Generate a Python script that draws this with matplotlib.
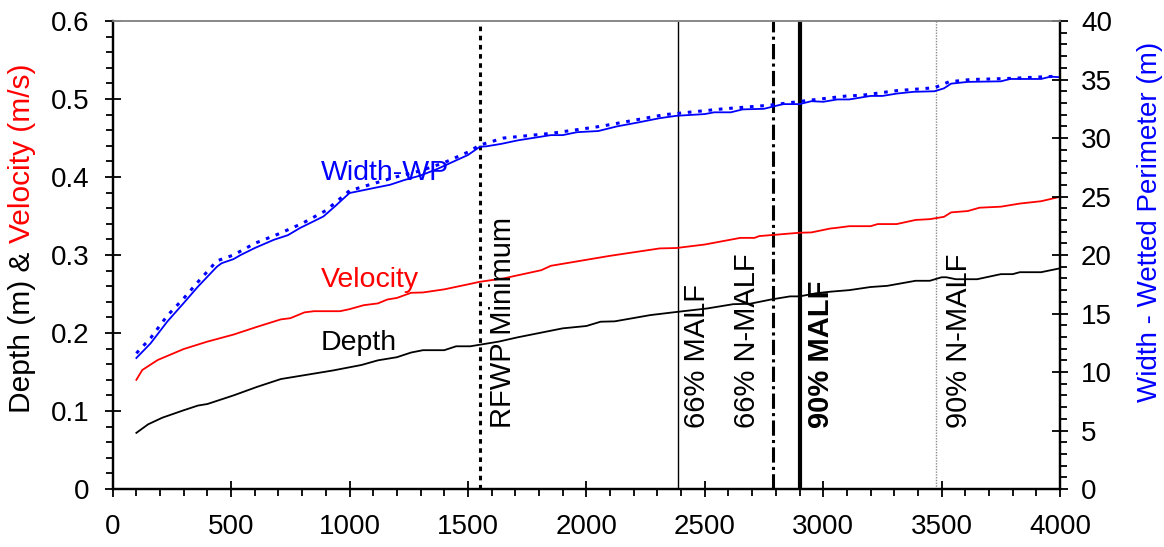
import matplotlib
matplotlib.use('Agg')
import matplotlib.pyplot as plt
from matplotlib.ticker import MultipleLocator, FuncFormatter

plt.rcParams['font.family'] = ['Liberation Sans', 'DejaVu Sans']

depth_flow = [100, 150, 210, 300, 360, 400, 510, 610, 710, 790, 930, 1050, 1120, 1200,
              1260, 1310, 1400, 1450, 1510, 1630, 1710, 1900, 2000, 2060, 2120, 2270,
              2380, 2510, 2620, 2690, 2780, 2860, 2900, 2970, 3030, 3110, 3200, 3270,
              3390, 3450, 3500, 3520, 3560, 3650, 3750, 3800, 3830, 3920, 4000]
depth = [0.072, 0.083, 0.0915, 0.101, 0.107, 0.109, 0.120, 0.131, 0.141, 0.145, 0.152,
         0.159, 0.165, 0.169, 0.175, 0.178, 0.178, 0.183, 0.183, 0.189, 0.1945, 0.206,
         0.209, 0.2145, 0.215, 0.223, 0.227, 0.2315, 0.237, 0.2375, 0.243, 0.247, 0.247,
         0.251, 0.253, 0.255, 0.259, 0.2605, 0.267, 0.267, 0.2715, 0.2715, 0.269, 0.269,
         0.2755, 0.2755, 0.278, 0.278, 0.283]

vel_flow = [100, 125, 190, 300, 400, 510, 610, 710, 750, 810, 850, 960, 1000, 1060,
            1120, 1160, 1200, 1260, 1310, 1400, 1500, 1550, 1650, 1710, 1810, 1850,
            2100, 2310, 2380, 2500, 2650, 2710, 2730, 2900, 2950, 3030, 3060, 3110,
            3200, 3230, 3310, 3390, 3450, 3510, 3540, 3610, 3660, 3750, 3830, 3920, 4000]
velocity = [0.140, 0.1526, 0.1654, 0.1795, 0.189, 0.198, 0.208, 0.2175, 0.219, 0.2265,
            0.228, 0.228, 0.2306, 0.2357, 0.238, 0.243, 0.245, 0.2516, 0.252, 0.256,
            0.2624, 0.2657, 0.270, 0.274, 0.2806, 0.2862, 0.299, 0.3085, 0.309, 0.3135,
            0.322, 0.322, 0.3243, 0.3286, 0.329, 0.334, 0.335, 0.337, 0.337, 0.3397,
            0.3397, 0.345, 0.346, 0.349, 0.3547, 0.3564, 0.3607, 0.362, 0.366, 0.369,
            0.3747]

width_flow = [100, 160, 230, 300, 360, 440, 460, 510, 540, 600, 680, 740, 790, 890, 935,
              1000, 1060, 1120, 1170, 1230, 1300, 1370, 1440, 1500, 1550, 1580, 1640,
              1710, 1850, 1900, 1960, 2050, 2130, 2210, 2310, 2380, 2500, 2540, 2610,
              2660, 2750, 2830, 2900, 2950, 3000, 3060, 3110, 3200, 3250, 3310, 3380,
              3470, 3510, 3540, 3610, 3750, 3790, 3920, 3960, 4000]
width = [11.2, 12.45, 14.3, 15.9, 17.3, 19.0, 19.3, 19.65, 20.0, 20.6, 21.3, 21.7, 22.3,
         23.3, 24.1, 25.3, 25.55, 25.8, 26.0, 26.4, 26.8, 27.35, 28.0, 28.55, 29.25, 29.3,
         29.5, 29.8, 30.25, 30.25, 30.5, 30.6, 31.0, 31.3, 31.7, 31.9, 32.05, 32.2, 32.2,
         32.45, 32.5, 32.9, 32.9, 33.15, 33.1, 33.3, 33.3, 33.6, 33.6, 33.8, 33.95, 34.0,
         34.25, 34.65, 34.8, 34.85, 35.05, 35.05, 35.25, 35.2]

wp_flow = [100, 160, 230, 300, 360, 440, 510, 600, 700, 800, 900, 1000, 1100, 1200, 1300,
           1400, 1500, 1550, 1600, 1650, 1850, 2060, 2330, 2580, 2770, 2950, 3100, 3160,
           3310, 3470, 3530, 3620, 3790, 4000]
wp = [11.6, 12.9, 14.8, 16.3, 17.7, 19.5, 20.0, 21.0, 21.8, 22.7, 23.8, 25.5, 26.1, 26.7,
      27.2, 27.9, 28.8, 29.4, 29.7, 30.0, 30.4, 31.0, 32.0, 32.5, 32.8, 33.25, 33.6, 33.65,
      34.05, 34.3, 34.8, 35.0, 35.1, 35.3]

# reference flows (vertical markers)
ref_names = ['RFWP Minimum', '66% MALF', '66% N-MALF', '90% MALF', '90% N-MALF']
ref_flows = [1550, 2385, 2786, 2903, 3477]
ref_label_x = [1646, 2468, 2677, 2990, 3574]

fig = plt.figure(figsize=(11.64, 5.47), dpi=100)
ax = fig.add_axes([0.0968, 0.106, 0.8139, 0.8555])
ax2 = ax.twinx()

ax.set_xlim(0, 4000)
ax.set_ylim(0, 0.6)
ax2.set_ylim(0, 40)

# vertical reference lines
ax.axvline(ref_flows[0], color='black', lw=2.2, dashes=(1.5, 1.5))
ax.axvline(ref_flows[1], color='black', lw=1.0)
ax.axvline(ref_flows[2], color='black', lw=2.2, dashes=(5, 1.4, 1, 1.4))
ax.axvline(ref_flows[3], color='black', lw=3.0)
ax.axvline(ref_flows[4], color='#8c8c8c', lw=1.0, dashes=(1, 1))

ax.plot(depth_flow, depth, color='black', lw=1.3)
ax.plot(vel_flow, velocity, color='red', lw=1.3)
ax2.plot(width_flow, width, color='blue', lw=1.3)
ax2.plot(wp_flow, wp, color='blue', lw=2.2, dashes=(1.2, 2.2))

for name, xl in zip(ref_names, ref_label_x):
    ax.text(xl, 0.078, name, rotation=90, ha='center', va='bottom', fontsize=21,
            fontweight='bold' if name == '90% MALF' else 'normal')

ax.text(877, 0.396, 'Width-WP', color='blue', fontsize=20.5)
ax.text(877, 0.259, 'Velocity', color='red', fontsize=20.5)
ax.text(877, 0.178, 'Depth', color='black', fontsize=20.5)

# axis labels, the left one in two colours
t1 = fig.text(22 / 1164, 1 - 413 / 547, 'Depth (m) & ', rotation=90, ha='center',
              va='bottom', fontsize=21.5, color='black')
ax.annotate('Velocity (m/s)', xy=(0.5, 1), xycoords=t1, rotation=90, ha='center',
            va='bottom', fontsize=21.5, color='red', annotation_clip=False)
fig.text(1150 / 1164, 1 - 222 / 547, 'Width - Wetted Perimeter (m)', rotation=90,
         ha='center', va='center', fontsize=20, color='blue')

ax.xaxis.set_major_locator(MultipleLocator(500))
ax.xaxis.set_minor_locator(MultipleLocator(100))
ax.yaxis.set_major_locator(MultipleLocator(0.1))
ax.yaxis.set_minor_locator(MultipleLocator(0.02))
ax2.yaxis.set_major_locator(MultipleLocator(5))
ax2.yaxis.set_minor_locator(MultipleLocator(1))
fmt = FuncFormatter(lambda v, p: f'{v:g}')
ax.yaxis.set_major_formatter(fmt)
ax2.yaxis.set_major_formatter(fmt)

ax.tick_params(axis='x', which='major', direction='inout', length=12, width=1.3,
               labelsize=20, pad=12)
ax.tick_params(axis='x', which='minor', direction='out', length=5, width=1.3)
ax.tick_params(axis='y', which='major', direction='inout', length=12, width=1.3,
               labelsize=20, pad=11)
ax.tick_params(axis='y', which='minor', direction='out', length=5, width=1.3)
ax2.tick_params(axis='y', which='major', direction='inout', length=12, width=1.3,
                labelsize=20, pad=9)
ax2.tick_params(axis='y', which='minor', direction='out', length=5, width=1.3)

for a in (ax, ax2):
    a.spines['left'].set_linewidth(1.6)
    a.spines['bottom'].set_linewidth(1.6)
    a.spines['right'].set_linewidth(1.6)
    a.spines['top'].set_color('#888888')
    a.spines['top'].set_linewidth(1.2)

fig.savefig('out.png', dpi=100)
